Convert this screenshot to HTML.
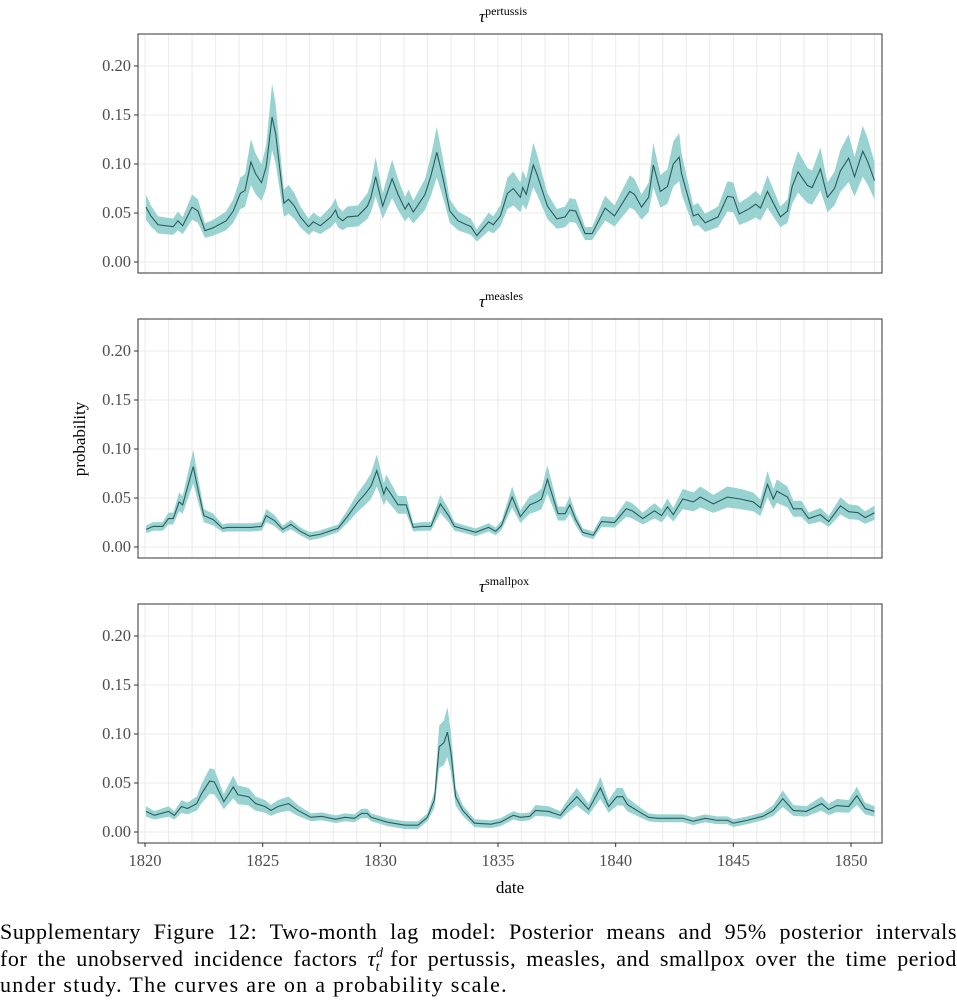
<!DOCTYPE html>
<html><head><meta charset="utf-8"><style>
body{margin:0;background:#fff;width:957px;height:1003px;overflow:hidden;font-family:"Liberation Serif",serif;}
#cap{position:absolute;left:0;top:919px;width:957px;font-size:22px;letter-spacing:1.3px;line-height:26.5px;color:#000;}
#cap .j{text-align:justify;text-align-last:justify;display:block;white-space:nowrap;}
#cap .l{display:block;white-space:nowrap;}
.ss{position:relative;font-size:14px;line-height:0;}
</style></head><body>
<svg id="chart" width="957" height="905" style="position:absolute;left:0;top:0" font-family="Liberation Serif, serif"></svg>
<div id="cap"><span class="j" style="white-space:normal;letter-spacing:0.6px">Supplementary Figure 12: Two-month lag model: Posterior means and 95% posterior intervals</span><span class="j" style="white-space:normal;letter-spacing:0.6px">for the unobserved incidence factors <i>τ</i><span class="ss" style="top:-9px"><i>d</i></span><span class="ss" style="top:5px;margin-left:-8px"><i>t</i></span> for pertussis, measles, and smallpox over the time period</span><span class="l">under study. The curves are on a probability scale.</span></div>
<script>
const yTicks=[0,0.05,0.10,0.15,0.20];
const yTickLabels=["0.00","0.05","0.10","0.15","0.20"];
const xTicks=[1820,1825,1830,1835,1840,1845,1850];
const panelNames=["pertussis","measles","smallpox"];
const pertDates=[1820.04,1820.25,1820.55,1821.2,1821.4,1821.6,1822.0,1822.25,1822.55,1822.9,1823.45,1823.75,1824.05,1824.25,1824.5,1824.7,1824.95,1825.15,1825.4,1825.55,1825.9,1826.1,1826.35,1826.6,1826.95,1827.15,1827.45,1827.9,1828.1,1828.2,1828.4,1828.6,1829.05,1829.45,1829.6,1829.8,1830.1,1830.5,1830.75,1831.05,1831.2,1831.4,1831.9,1832.15,1832.4,1832.65,1832.95,1833.3,1833.85,1834.1,1834.6,1834.8,1835.1,1835.4,1835.65,1835.95,1836.05,1836.2,1836.5,1836.65,1837.1,1837.5,1837.85,1838.05,1838.3,1838.7,1839.0,1839.55,1839.95,1840.6,1840.8,1841.1,1841.4,1841.6,1841.9,1842.2,1842.45,1842.7,1842.8,1843.3,1843.5,1843.8,1844.35,1844.75,1845.0,1845.25,1845.65,1845.95,1846.15,1846.45,1847.0,1847.3,1847.5,1847.75,1848.15,1848.35,1848.7,1849.0,1849.3,1849.55,1849.9,1850.15,1850.35,1850.5,1850.7,1851.0];
const pertMean=[0.056,0.047,0.038,0.036,0.042,0.037,0.056,0.052,0.032,0.035,0.042,0.052,0.070,0.073,0.102,0.090,0.081,0.097,0.148,0.131,0.060,0.064,0.057,0.046,0.036,0.041,0.037,0.046,0.053,0.046,0.042,0.046,0.047,0.057,0.066,0.087,0.057,0.085,0.069,0.054,0.060,0.051,0.069,0.088,0.112,0.087,0.052,0.042,0.036,0.027,0.041,0.038,0.047,0.070,0.075,0.066,0.076,0.069,0.099,0.090,0.057,0.044,0.046,0.053,0.052,0.029,0.029,0.055,0.047,0.072,0.069,0.056,0.066,0.099,0.072,0.077,0.100,0.107,0.090,0.047,0.049,0.040,0.046,0.067,0.066,0.049,0.054,0.059,0.055,0.072,0.046,0.052,0.077,0.092,0.078,0.076,0.095,0.066,0.075,0.093,0.106,0.087,0.102,0.113,0.103,0.083];
const measDates=[1820.05,1820.35,1820.75,1821.0,1821.2,1821.45,1821.6,1822.05,1822.25,1822.5,1822.9,1823.3,1823.5,1823.95,1824.5,1824.95,1825.15,1825.5,1825.85,1826.2,1826.6,1827.0,1827.45,1828.2,1828.6,1829.05,1829.35,1829.6,1829.85,1830.15,1830.25,1830.45,1830.75,1831.1,1831.4,1831.75,1832.15,1832.55,1832.9,1833.15,1833.6,1834.05,1834.6,1834.9,1835.15,1835.6,1835.95,1836.35,1836.65,1836.85,1837.1,1837.55,1837.85,1838.05,1838.3,1838.6,1839.05,1839.4,1839.95,1840.45,1840.7,1841.15,1841.65,1841.95,1842.2,1842.45,1842.85,1843.3,1843.6,1844.15,1844.75,1845.3,1845.85,1846.15,1846.45,1846.7,1846.85,1847.3,1847.55,1847.9,1848.2,1848.7,1849.05,1849.55,1849.9,1850.3,1850.6,1851.0];
const measMean=[0.018,0.021,0.021,0.029,0.029,0.046,0.043,0.082,0.059,0.032,0.028,0.019,0.020,0.020,0.020,0.021,0.032,0.027,0.018,0.023,0.016,0.011,0.013,0.019,0.031,0.046,0.054,0.062,0.078,0.054,0.061,0.054,0.043,0.043,0.020,0.021,0.021,0.044,0.032,0.021,0.018,0.015,0.020,0.016,0.022,0.051,0.031,0.043,0.046,0.049,0.069,0.034,0.034,0.043,0.028,0.015,0.012,0.026,0.025,0.039,0.037,0.029,0.037,0.032,0.041,0.033,0.049,0.046,0.051,0.044,0.051,0.049,0.046,0.040,0.064,0.049,0.057,0.051,0.039,0.039,0.029,0.033,0.026,0.042,0.036,0.035,0.030,0.035];
const smallDates=[1820.04,1820.4,1821.0,1821.25,1821.55,1821.8,1822.2,1822.4,1822.75,1822.95,1823.35,1823.75,1823.95,1824.4,1824.7,1825.1,1825.35,1825.65,1826.1,1826.5,1827.05,1827.5,1828.1,1828.5,1828.9,1829.2,1829.45,1829.6,1830.3,1831.05,1831.6,1832.0,1832.3,1832.5,1832.7,1832.85,1833.0,1833.2,1833.5,1834.0,1834.7,1835.1,1835.65,1835.95,1836.35,1836.6,1837.15,1837.65,1837.95,1838.35,1838.85,1839.35,1839.7,1840.05,1840.3,1840.5,1840.9,1841.4,1841.8,1842.85,1843.3,1843.8,1844.3,1844.75,1845.0,1845.6,1846.25,1846.7,1847.1,1847.55,1848.1,1848.75,1849.05,1849.4,1849.9,1850.25,1850.6,1851.0];
const smallMean=[0.021,0.017,0.021,0.017,0.026,0.024,0.029,0.039,0.052,0.051,0.031,0.046,0.038,0.036,0.029,0.026,0.022,0.026,0.029,0.022,0.015,0.016,0.013,0.015,0.014,0.019,0.019,0.015,0.010,0.007,0.007,0.015,0.033,0.087,0.091,0.102,0.081,0.036,0.022,0.009,0.008,0.010,0.017,0.015,0.016,0.022,0.021,0.017,0.026,0.036,0.023,0.045,0.026,0.036,0.036,0.028,0.022,0.015,0.014,0.014,0.011,0.014,0.012,0.012,0.009,0.012,0.016,0.022,0.034,0.022,0.021,0.029,0.023,0.027,0.026,0.037,0.024,0.021];
const bandRel=[0.23,0.21,0.25];

const svg=document.getElementById('chart');
const NS='http://www.w3.org/2000/svg';
function mk(t,a,p){const e=document.createElementNS(NS,t);for(const k in a)e.setAttribute(k,a[k]);(p||svg).appendChild(e);return e;}
const X0=138,X1=882;
const xs=v=>145+(v-1820)*(706/30);
const panels=[{top:34,d:pertDates,m:pertMean},{top:319,d:measDates,m:measMean},{top:604,d:smallDates,m:smallMean}];
panels.forEach((p,i)=>{
  const g=mk('g',{});
  
  
  const zero=p.top+228;
  const ys=v=>zero-v*980;
  for(let yr=1820;yr<=1851;yr++){const l=mk('line',{x1:xs(yr),x2:xs(yr),y1:p.top,y2:p.top+239,stroke:'#ebebeb','stroke-width':1},g);
    }
  yTicks.forEach((t,k)=>{
    const l=mk('line',{x1:X0,x2:X1,y1:ys(t),y2:ys(t),stroke:'#ebebeb','stroke-width':1},g);
    
    mk('line',{x1:X0-4,x2:X0,y1:ys(t),y2:ys(t),stroke:'#333','stroke-width':1},g);
    const tx=mk('text',{x:X0-7,y:ys(t)+5,'text-anchor':'end','font-size':16.5,fill:'#4d4d4d'},g);
    tx.textContent=yTickLabels[k];
    
  });
  const k=bandRel[i];
  let up=p.d.map((d,j)=>xs(d)+','+ys(p.m[j]+Math.max(0.004,p.m[j]*k)));
  let lo=p.d.map((d,j)=>xs(d)+','+ys(Math.max(0,p.m[j]-Math.max(0.004,p.m[j]*k)))).reverse();
  const band=mk('polygon',{points:up.concat(lo).join(' '),fill:'#98d3d1'},g);
  
  const line=mk('polyline',{points:p.d.map((d,j)=>xs(d)+','+ys(p.m[j])).join(' '),fill:'none',stroke:'#2b5b5b','stroke-width':1.1},g);
  
  mk('rect',{x:X0,y:p.top,width:X1-X0,height:239,fill:'none',stroke:'#333','stroke-width':1},g);
  const tt=mk('text',{x:479,y:p.top-12,'font-size':17},g);
  
  tt.innerHTML='<tspan font-style="italic">τ</tspan><tspan dy="-7" font-size="12">'+panelNames[i]+'</tspan>';
});
xTicks.forEach(t=>{
  mk('line',{x1:xs(t),x2:xs(t),y1:843,y2:847,stroke:'#333'});
  const tx=mk('text',{x:xs(t),y:866,'text-anchor':'middle','font-size':16.5,fill:'#4d4d4d'});
  tx.textContent=t;
  
});
const xl=mk('text',{x:510,y:893,'text-anchor':'middle','font-size':17});xl.textContent='date';

const yl=mk('text',{x:0,y:0,'text-anchor':'middle','font-size':17,transform:'translate(85,439) rotate(-90)'});yl.textContent='probability';

</script>
</body></html>
